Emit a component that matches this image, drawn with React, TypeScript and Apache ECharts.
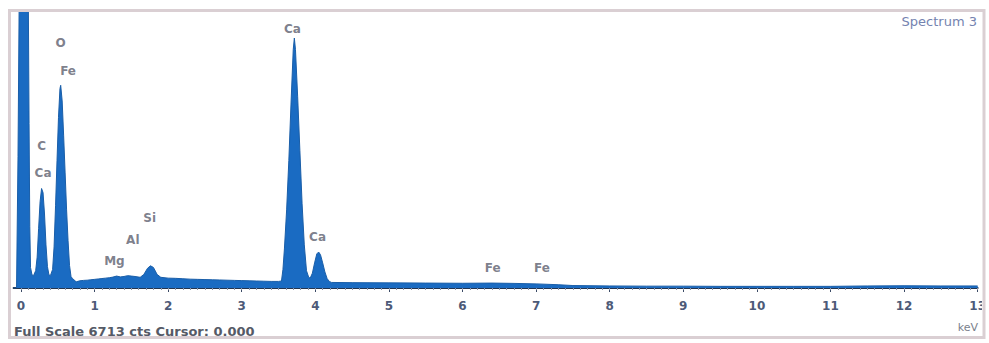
import React, { useEffect, useRef } from "react";
import * as echarts from "echarts";

// Spectrum: energies (keV) and counts
const energies = [
  -0.1, -0.06, -0.04, -0.02, 0.0, 0.08, 0.1, 0.11, 0.12, 0.13, 0.15,
  0.17, 0.2, 0.22, 0.24, 0.26, 0.28, 0.3, 0.32, 0.34, 0.36, 0.38,
  0.4, 0.43, 0.45, 0.47, 0.49, 0.51, 0.53, 0.54, 0.56, 0.58, 0.6, 0.62, 0.64, 0.66, 0.68, 0.7, 0.72,
  0.75, 0.8, 0.85, 0.9, 0.95, 1.0, 1.05, 1.1, 1.15, 1.2, 1.25, 1.3, 1.35, 1.4, 1.45, 1.5, 1.55, 1.62,
  1.67, 1.72, 1.76, 1.8, 1.85, 1.9, 2.0, 2.1, 2.2, 2.3, 2.4, 2.5, 2.6, 2.7, 2.8, 2.9, 3.0, 3.1, 3.2, 3.3, 3.4, 3.5,
  3.54, 3.56, 3.58, 3.61, 3.64, 3.67, 3.7, 3.715, 3.73, 3.76, 3.79, 3.82, 3.85, 3.88, 3.91,
  3.93, 3.96, 3.99, 4.02, 4.045, 4.07, 4.1, 4.13, 4.16, 4.19, 4.22,
  4.5, 5.0, 5.5, 6.0, 6.4, 6.7, 7.0, 7.3, 7.5, 8.0, 8.5, 9.0, 9.5, 10.0, 10.5, 11.0, 11.5, 12.0, 12.5, 13.0,
];
const counts = [
  0, 0, 3200, 8000, 9000, 9000, 7000, 4000, 1500, 500, 320,
  300, 420, 750, 1450, 2100, 2420, 2320, 1800, 1050, 520, 320,
  300, 450, 1000, 2000, 3100, 4150, 4850, 4930, 4550, 3700, 2800, 1900, 1150, 550, 280, 230, 200,
  150, 175, 185, 190, 200, 210, 220, 230, 240, 250, 265, 290, 270, 280, 300, 290, 280, 260,
  330, 480, 540, 500, 330, 260, 240, 235, 225, 215, 210, 205, 200, 195, 190, 185, 180, 175, 170, 165, 160, 160,
  170, 450, 950, 1900, 3100, 4500, 5800, 6080, 5800, 4650, 3350, 2050, 1050, 420, 260,
  240, 360, 610, 830, 875, 810, 610, 390, 230, 160, 135,
  130, 125, 120, 115, 120, 112, 100, 80, 60, 50, 45, 45, 40, 40, 40, 40, 50, 55, 50, 50,
];

// Element labels
const labelNames = ["C", "Ca", "O", "Fe", "Ca", "Ca", "Mg", "Al", "Si", "Fe", "Fe"];
const labelKeV = [0.28, 0.3, 0.54, 0.64, 3.69, 4.03, 1.27, 1.52, 1.75, 6.41, 7.08];
const labelCounts = [3453, 2797, 5958, 5277, 6299, 1240, 657, 1167, 1702, 486, 486];

// Axis ticks
const tickLabels = [0, 1, 2, 3, 4, 5, 6, 7, 8, 9, 10, 11, 12, 13];
const fullScale = 6713;

const FONT = "DejaVu Sans, Verdana, sans-serif";

export default function App() {
  const ref = useRef<HTMLDivElement>(null);
  useEffect(() => {
    if (!ref.current) return;
    const chart = echarts.init(ref.current, null, { renderer: "svg" });
    const minorTicks: number[] = [];
    for (let i = 0; i <= 130; i++) minorTicks.push(i / 10);
    const xMin = -0.1;
    const xMax = 13;
    chart.setOption({
      animation: false,
      backgroundColor: "#ffffff",
      grid: { left: 13.6, right: 9, top: 12, bottom: 55 },
      xAxis: [
        {
          type: "value",
          min: xMin,
          max: xMax,
          splitLine: { show: false },
          axisLine: { show: true, lineStyle: { color: "#23344f", width: 2 } },
          axisTick: {
            show: true,
            customValues: tickLabels,
            length: 4,
            lineStyle: { color: "#3b4a66", width: 1 },
          },
          axisLabel: {
            customValues: tickLabels,
            margin: 12,
            color: "#4d5a78",
            fontSize: 12,
            fontWeight: "bold",
            fontFamily: FONT,
          },
        },
        {
          type: "value",
          min: xMin,
          max: xMax,
          position: "bottom",
          splitLine: { show: false },
          axisLine: { show: false },
          axisTick: {
            show: true,
            customValues: minorTicks,
            length: 2,
            lineStyle: { color: "#8a93a8", width: 1 },
          },
          axisLabel: { show: false },
        },
      ],
      yAxis: {
        type: "value",
        min: 0,
        max: fullScale,
        show: false,
      },
      series: [
        {
          type: "line",
          xAxisIndex: 0,
          data: energies.map((e, i) => [e, counts[i]]),
          showSymbol: false,
          symbol: "none",
          lineStyle: { color: "#1a5ea8", width: 1 },
          areaStyle: { color: "#1a6bc2", opacity: 1 },
          z: 2,
        },
        {
          type: "scatter",
          xAxisIndex: 0,
          data: labelKeV.map((e, i) => [e, labelCounts[i], labelNames[i]]),
          symbolSize: 0,
          label: {
            show: true,
            position: "inside",
            formatter: (p: any) => p.data[2],
            color: "#5c5e6e",
            fontSize: 12,
            fontWeight: "bold",
            fontFamily: FONT,
          },
          z: 3,
        },
      ],
      graphic: [
        {
          type: "rect",
          shape: { x: 982, y: 0, width: 7, height: 343 },
          style: { fill: "#ffffff" },
          z: 50,
        },
        {
          type: "rect",
          shape: { x: 9.5, y: 10.5, width: 974.5, height: 327 },
          style: { fill: "none", stroke: "#dacfd3", lineWidth: 3 },
          z: 51,
        },
        {
          type: "text",
          x: 977,
          y: 21,
          style: {
            text: "Spectrum 3",
            fill: "#7483b0",
            fontSize: 13,
            fontFamily: FONT,
            align: "right",
            verticalAlign: "middle",
          },
          z: 52,
        },
        {
          type: "text",
          x: 14,
          y: 331,
          style: {
            text: "Full Scale " + fullScale + " cts Cursor: 0.000",
            fill: "#555a66",
            fontSize: 13,
            fontWeight: "bold",
            fontFamily: FONT,
            align: "left",
            verticalAlign: "middle",
          },
          z: 52,
        },
        {
          type: "text",
          x: 978,
          y: 327,
          style: {
            text: "keV",
            fill: "#7a7f8c",
            fontSize: 11,
            fontFamily: FONT,
            align: "right",
            verticalAlign: "middle",
          },
          z: 52,
        },
      ],
    });
    return () => chart.dispose();
  }, []);
  return (
    <div
      ref={ref}
      style={{ position: "fixed", left: 0, top: 0, width: 989, height: 343, background: "#fff" }}
    />
  );
}
